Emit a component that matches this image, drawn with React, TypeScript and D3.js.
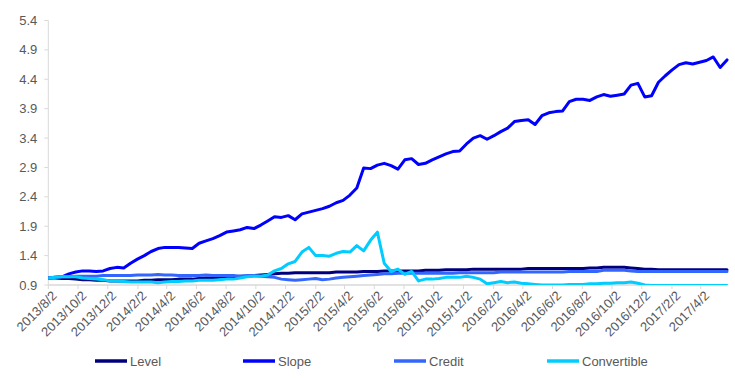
import React from 'react';
import * as d3 from 'd3';

const START_DATE = '2013/8/2';
const END_DATE = '2017/5/26';
const xTickLabels = ['2013/8/2','2013/10/2','2013/12/2','2014/2/2','2014/4/2','2014/6/2','2014/8/2','2014/10/2','2014/12/2','2015/2/2','2015/4/2','2015/6/2','2015/8/2','2015/10/2','2015/12/2','2016/2/2','2016/4/2','2016/6/2','2016/8/2','2016/10/2','2016/12/2','2017/2/2','2017/4/2'];
const yTicks = [0.9, 1.4, 1.9, 2.4, 2.9, 3.4, 3.9, 4.4, 4.9, 5.4];
const seriesNames = ['Level', 'Slope', 'Credit', 'Convertible'];
const seriesColors = ['#00007F', '#0000FF', '#3366FF', '#00CCFF'];

const level = [
  1.02,1.02,1.01,1.01,1.00,0.99,0.99,0.98,0.98,0.97,
  0.97,0.97,0.97,0.97,0.98,0.98,0.99,0.99,0.99,1.00,
  1.00,1.00,1.01,1.02,1.02,1.03,1.04,1.04,1.05,1.05,
  1.06,1.07,1.08,1.09,1.10,1.10,1.11,1.11,1.11,1.11,
  1.11,1.11,1.12,1.12,1.12,1.12,1.13,1.13,1.13,1.14,
  1.14,1.14,1.14,1.14,1.14,1.15,1.15,1.15,1.16,1.16,
  1.16,1.16,1.17,1.17,1.17,1.17,1.17,1.17,1.17,1.17,
  1.18,1.18,1.18,1.18,1.18,1.18,1.18,1.18,1.18,1.19,
  1.19,1.20,1.20,1.20,1.20,1.19,1.18,1.17,1.17,1.16,
  1.16,1.16,1.16,1.16,1.16,1.16,1.16,1.16,1.16,1.16,
];
const slope = [
  1.02,1.03,1.04,1.09,1.12,1.14,1.14,1.13,1.14,1.18,
  1.20,1.19,1.27,1.34,1.40,1.47,1.52,1.54,1.54,1.54,
  1.53,1.52,1.61,1.65,1.69,1.74,1.80,1.82,1.84,1.88,
  1.86,1.92,1.99,2.06,2.05,2.08,2.01,2.11,2.14,2.17,
  2.20,2.24,2.30,2.34,2.43,2.55,2.89,2.88,2.94,2.97,
  2.93,2.87,3.03,3.05,2.95,2.97,3.03,3.08,3.13,3.17,
  3.18,3.30,3.40,3.44,3.38,3.44,3.51,3.57,3.68,3.70,
  3.71,3.63,3.78,3.83,3.85,3.86,4.02,4.06,4.06,4.04,
  4.10,4.14,4.11,4.13,4.15,4.30,4.33,4.10,4.12,4.35,
  4.46,4.56,4.65,4.68,4.66,4.69,4.72,4.78,4.60,4.73,
];
const credit = [
  1.02,1.03,1.04,1.04,1.05,1.05,1.05,1.05,1.06,1.06,
  1.06,1.06,1.06,1.07,1.07,1.07,1.08,1.07,1.07,1.06,
  1.06,1.06,1.06,1.07,1.06,1.06,1.06,1.06,1.05,1.06,
  1.06,1.05,1.04,1.03,1.00,0.99,0.98,0.99,1.00,1.01,
  0.99,1.00,1.02,1.03,1.04,1.05,1.06,1.07,1.08,1.09,
  1.09,1.10,1.10,1.10,1.10,1.10,1.10,1.10,1.10,1.10,
  1.11,1.11,1.11,1.11,1.11,1.11,1.12,1.12,1.12,1.12,
  1.12,1.12,1.12,1.12,1.12,1.12,1.13,1.13,1.13,1.13,
  1.13,1.15,1.15,1.15,1.15,1.14,1.13,1.13,1.13,1.13,
  1.13,1.13,1.13,1.13,1.13,1.13,1.13,1.13,1.13,1.13,
];
const convertible = [
  1.02,1.03,1.04,1.04,1.04,1.02,1.01,1.00,0.99,0.97,
  0.97,0.96,0.95,0.95,0.95,0.95,0.94,0.95,0.96,0.96,
  0.97,0.97,0.98,0.98,0.98,0.99,1.00,1.00,1.02,1.04,
  1.05,1.05,1.07,1.14,1.18,1.26,1.30,1.46,1.54,1.40,
  1.40,1.39,1.44,1.47,1.46,1.57,1.48,1.66,1.80,1.27,
  1.13,1.17,1.08,1.13,0.97,1.00,1.00,1.01,1.03,1.03,
  1.03,1.05,1.03,1.00,0.92,0.94,0.96,0.94,0.95,0.93,
  0.92,0.91,0.90,0.90,0.90,0.90,0.91,0.91,0.91,0.92,
  0.92,0.93,0.93,0.94,0.94,0.95,0.93,0.90,0.89,0.89,
  0.89,0.89,0.89,0.89,0.89,0.89,0.89,0.89,0.89,0.89,
];
const seriesValues = [level, slope, credit, convertible];

const W = 735;
const H = 378;
const plot = { left: 48.3, right: 727, top: 20.5, bottom: 285 };
const FONT = '"Liberation Sans", Arial, sans-serif';
const TEXT_COLOR = '#595959';
const AXIS_COLOR = '#D9D9D9';
const legendX = [95, 243, 394, 547];
const legendY = 361;

export default function App() {
  const parse = d3.timeParse('%Y/%m/%d');
  const start = parse(START_DATE) as Date;
  const end = parse(END_DATE) as Date;
  const n = level.length;
  const dates = d3.range(n).map(i => new Date(start.getTime() + (i * (end.getTime() - start.getTime())) / (n - 1)));

  const x = d3.scaleTime().domain([start, end]).range([plot.left, plot.right]);
  const y = d3.scaleLinear().domain([0.9, 5.4]).range([plot.bottom, plot.top]);

  const line = d3.line<number>()
    .x((_, i) => x(dates[i]))
    .y(d => y(d))
    .curve(d3.curveLinear);

  const tickDates = xTickLabels.map(s => parse(s) as Date);

  return (
    <svg width={W} height={H} style={{ position: 'fixed', left: 0, top: 0, background: '#fff' }} fontFamily={FONT}>
      <defs>
        <clipPath id="plotClip">
          <rect x={plot.left} y={plot.top - 5} width={plot.right - plot.left + 3} height={plot.bottom - plot.top + 5} />
        </clipPath>
      </defs>
      {/* y axis */}
      <line x1={plot.left} x2={plot.left} y1={plot.top} y2={plot.bottom} stroke={AXIS_COLOR} strokeWidth={1} />
      {yTicks.map(t => (
        <g key={t}>
          <line x1={plot.left - 4} x2={plot.left} y1={y(t)} y2={y(t)} stroke={AXIS_COLOR} />
          <text x={plot.left - 11} y={y(t)} dy="0.35em" textAnchor="end" fontSize={13} fill={TEXT_COLOR}>{t.toFixed(1)}</text>
        </g>
      ))}
      {/* x axis */}
      <line x1={plot.left} x2={plot.right} y1={plot.bottom} y2={plot.bottom} stroke={AXIS_COLOR} strokeWidth={1.5} />
      {tickDates.map((d, i) => {
        const tx = x(d);
        return (
          <g key={xTickLabels[i]}>
            <line x1={tx} x2={tx} y1={plot.bottom} y2={plot.bottom + 4} stroke={AXIS_COLOR} />
            <text transform={`translate(${tx + 3},${plot.bottom + 5}) rotate(-45)`} textAnchor="end" dy="0.7em" fontSize={13} fill={TEXT_COLOR}>{xTickLabels[i]}</text>
          </g>
        );
      })}
      {/* series */}
      <g clipPath="url(#plotClip)">
        {seriesValues.map((vals, k) => (
          <path key={seriesNames[k]} d={line(vals) || ''} fill="none" stroke={seriesColors[k]} strokeWidth={3} strokeLinejoin="round" strokeLinecap="round" />
        ))}
      </g>
      {/* legend */}
      {seriesNames.map((name, k) => (
        <g key={name}>
          <line x1={legendX[k]} x2={legendX[k] + 32} y1={legendY} y2={legendY} stroke={seriesColors[k]} strokeWidth={3.5} />
          <text x={legendX[k] + 35} y={legendY} dy="0.35em" fontSize={13} fill={TEXT_COLOR}>{name}</text>
        </g>
      ))}
    </svg>
  );
}
